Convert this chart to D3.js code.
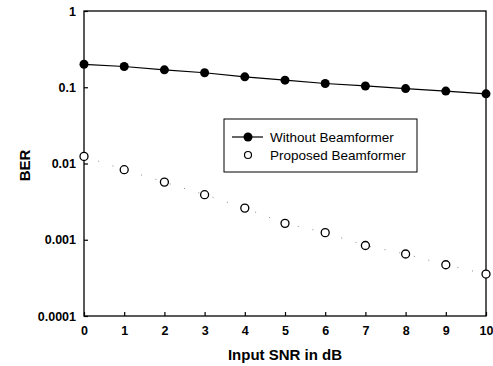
<!DOCTYPE html>
<html>
<head>
<meta charset="utf-8">
<script src="https://cdn.jsdelivr.net/npm/d3@7"></script>
<style>
  body { margin: 0; background: #fff; }
  .tick text { font-family: "Liberation Sans", Arial, sans-serif; font-weight: bold; font-size: 12.5px; fill: #000; }
</style>
</head>
<body>
<div id="chart"></div>
<script>
// SNR values (dB) on the x axis
var snr = [0, 1, 2, 3, 4, 5, 6, 7, 8, 9, 10];
// BER
var berWithout = [0.2, 0.187, 0.169, 0.155, 0.137, 0.124, 0.112, 0.104, 0.096, 0.089, 0.082];
var berProposed = [0.0124, 0.0083, 0.0057, 0.0039, 0.0026, 0.00164, 0.00124, 0.00084, 0.00065, 0.00047, 0.000355];
var yTicks = [1, 0.1, 0.01, 0.001, 0.0001];
var yTickLabels = ["1", "0.1", "0.01", "0.001", "0.0001"];
var seriesNames = ["Without Beamformer", "Proposed Beamformer"];

var W = 493, H = 366;
var margin = { top: 11, right: 7, bottom: 50, left: 84 };
var width = W - margin.left - margin.right;
var height = H - margin.top - margin.bottom;

var svg = d3.select("#chart").append("svg")
  .attr("width", W)
  .attr("height", H);

var g = svg.append("g")
  .attr("transform", "translate(" + margin.left + "," + margin.top + ")");

var x = d3.scaleLinear().domain([0, 10]).range([0, width]);
var y = d3.scaleLog().domain([0.0001, 1]).range([height, 0]);

// frame
g.append("rect")
  .attr("width", width).attr("height", height)
  .attr("fill", "none").attr("stroke", "#000").attr("stroke-width", 1.3);

// x axis, ticks inward
var xAxis = g.append("g")
  .attr("transform", "translate(0," + height + ")")
  .call(d3.axisBottom(x).tickValues(snr).tickSize(-4).tickPadding(10).tickFormat(d3.format("d")));
xAxis.select(".domain").remove();

// y axis, ticks inward
var yAxis = g.append("g")
  .call(d3.axisLeft(y).tickValues(yTicks).tickSize(-4).tickPadding(8)
    .tickFormat(function (d, i) { return yTickLabels[i]; }));
yAxis.select(".domain").remove();
g.selectAll(".tick line").attr("stroke", "#000").attr("stroke-width", 1.2);

// series data
var d1 = snr.map(function (s, i) { return { x: s, y: berWithout[i] }; });
var d2 = snr.map(function (s, i) { return { x: s, y: berProposed[i] }; });

var line = d3.line()
  .x(function (d) { return x(d.x); })
  .y(function (d) { return y(d.y); });

g.append("path")
  .datum(d1)
  .attr("fill", "none").attr("stroke", "#000").attr("stroke-width", 1.2)
  .attr("d", line);

// faint dotted trace for proposed
g.append("path")
  .datum(d2)
  .attr("fill", "none").attr("stroke", "#888").attr("stroke-width", 1)
  .attr("stroke-dasharray", "1,14")
  .attr("d", line);

g.selectAll(".dot1")
  .data(d1)
  .enter().append("circle")
  .attr("class", "dot1")
  .attr("cx", function (d) { return x(d.x); })
  .attr("cy", function (d) { return y(d.y); })
  .attr("r", 4.5)
  .attr("fill", "#000");

g.selectAll(".dot2")
  .data(d2)
  .enter().append("circle")
  .attr("class", "dot2")
  .attr("cx", function (d) { return x(d.x); })
  .attr("cy", function (d) { return y(d.y); })
  .attr("r", 4)
  .attr("fill", "#fff").attr("stroke", "#000").attr("stroke-width", 1.3);

// legend
var leg = svg.append("g").attr("transform", "translate(224,119)");
leg.append("rect")
  .attr("width", 193).attr("height", 53)
  .attr("fill", "#fff").attr("stroke", "#000").attr("stroke-width", 1);
leg.append("line")
  .attr("x1", 8).attr("x2", 39).attr("y1", 18).attr("y2", 18)
  .attr("stroke", "#000").attr("stroke-width", 1.2);
leg.append("circle").attr("cx", 24).attr("cy", 18).attr("r", 4.5).attr("fill", "#000");
leg.append("circle").attr("cx", 24).attr("cy", 36).attr("r", 3.5)
  .attr("fill", "#fff").attr("stroke", "#000").attr("stroke-width", 1.2);
leg.selectAll(".legtext")
  .data(seriesNames)
  .enter().append("text")
  .attr("x", 46)
  .attr("y", function (d, i) { return 18 + i * 18; })
  .attr("dy", "0.35em")
  .style("font-family", "'Liberation Sans', Arial, sans-serif")
  .style("font-size", "13.5px")
  .text(function (d) { return d; });

// axis titles
svg.append("text")
  .attr("x", margin.left + width / 2)
  .attr("y", 360)
  .attr("text-anchor", "middle")
  .style("font-family", "'Liberation Sans', Arial, sans-serif")
  .style("font-weight", "bold")
  .style("font-size", "15px")
  .text("Input SNR in dB");

svg.append("text")
  .attr("transform", "translate(30," + (margin.top + height / 2 + 2) + ") rotate(-90)")
  .attr("text-anchor", "middle")
  .style("font-family", "'Liberation Sans', Arial, sans-serif")
  .style("font-weight", "bold")
  .style("font-size", "15px")
  .text("BER");
</script>
</body>
</html>
